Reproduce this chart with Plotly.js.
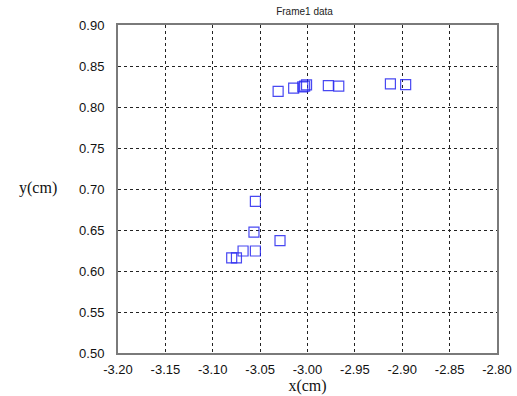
<!DOCTYPE html>
<html><head><meta charset="utf-8">
<script src="https://cdn.plot.ly/plotly-3.0.1.min.js"></script>
<style>html,body{margin:0;padding:0;background:#fff;}#chart{width:517px;height:396px;}</style>
</head><body><div id="chart"></div>
<script>
const xVals = [-3.031, -3.0146, -3.005, -3.003, -3.001, -2.978, -2.967, -2.9125, -2.8964,
               -3.055, -3.0565, -3.029, -3.055, -3.068, -3.075, -3.080];
const yVals = [0.819, 0.823, 0.8246, 0.8255, 0.827, 0.826, 0.8255, 0.8283, 0.8274,
               0.6848, 0.6475, 0.637, 0.6244, 0.6244, 0.616, 0.616];
const xTicks = [-3.20, -3.15, -3.10, -3.05, -3.00, -2.95, -2.90, -2.85, -2.80];
const yTicks = [0.50, 0.55, 0.60, 0.65, 0.70, 0.75, 0.80, 0.85, 0.90];
const chartTitle = "Frame1 data";

const trace = {
  x: xVals, y: yVals, type: 'scatter', mode: 'markers',
  marker: {symbol: 'square-open', size: 10, color: 'rgba(40,40,240,0.85)', line: {width: 1.2}},
  hoverinfo: 'none'
};
const axisCommon = {
  showgrid: true, gridcolor: '#222', griddash: 'dot', gridwidth: 1,
  showline: true, linecolor: '#7a7a7a', linewidth: 2, mirror: true,
  ticks: '', zeroline: false,
  tickfont: {family: 'Liberation Sans, Arial, sans-serif', size: 13, color: '#111'}
};
const layout = {
  width: 517, height: 396,
  margin: {l: 118, r: 20, t: 25, b: 43},
  paper_bgcolor: '#fff', plot_bgcolor: '#fff',
  showlegend: false,
  title: {text: chartTitle, font: {family: 'Liberation Sans, Arial, sans-serif', size: 10, color: '#222'},
          x: 0.589, xanchor: 'center', y: 0.97, yanchor: 'middle'},
  xaxis: Object.assign({}, axisCommon, {
    range: [-3.20, -2.80], tickvals: xTicks, ticktext: xTicks.map(v => v.toFixed(2)),
    ticklabelstandoff: 3,
    title: {text: 'x(cm)', font: {family: 'Liberation Serif, Times New Roman, serif', size: 16, color: '#111'}, standoff: 2}
  }),
  yaxis: Object.assign({}, axisCommon, {
    range: [0.50, 0.90], tickvals: yTicks, ticktext: yTicks.map(v => v.toFixed(2)),
    ticklabelstandoff: 9
  }),
  annotations: [{
    text: 'y(cm)', xref: 'paper', yref: 'paper', x: -0.21, y: 0.502,
    xanchor: 'center', yanchor: 'middle', showarrow: false,
    font: {family: 'Liberation Serif, Times New Roman, serif', size: 16, color: '#111'}
  }]
};
Plotly.newPlot('chart', [trace], layout, {displayModeBar: false, staticPlot: true});
</script></body></html>
